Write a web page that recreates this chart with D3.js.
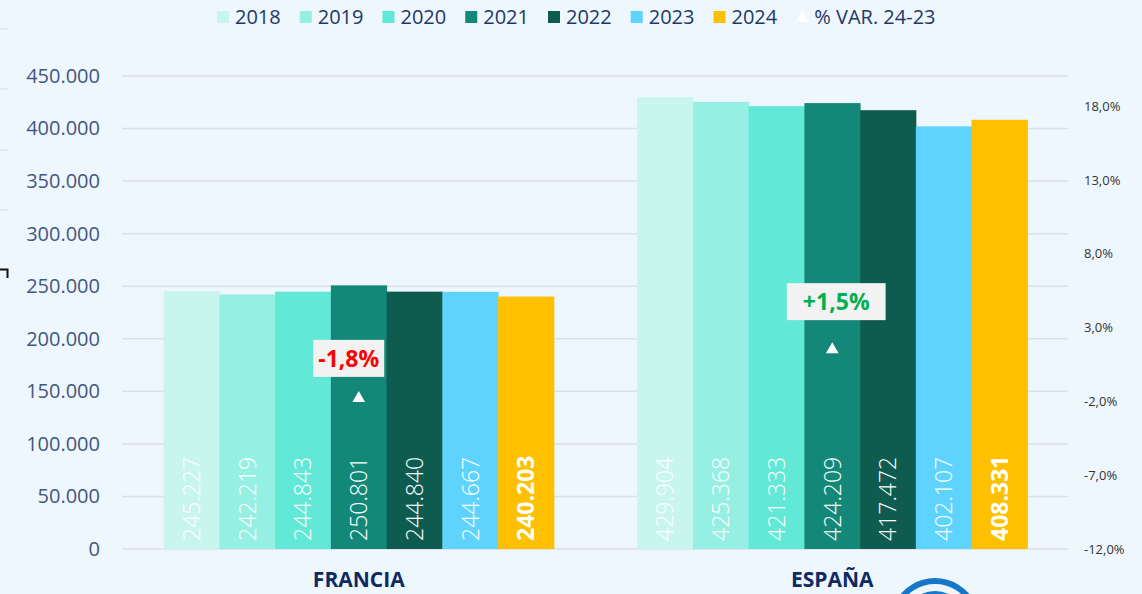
<!DOCTYPE html>
<html>
<head>
<meta charset="utf-8">
<script src="https://cdn.jsdelivr.net/npm/d3@7"></script>
<style>
  html, body { margin: 0; padding: 0; background: #eef6fe; }
  svg { display: block; }
</style>
</head>
<body>
<div id="chart"></div>
<script>
var categories = ["FRANCIA", "ESPAÑA"];
var years = ["2018", "2019", "2020", "2021", "2022", "2023", "2024"];
var francia = [245227, 242219, 244843, 250801, 244840, 244667, 240203];
var espana = [429904, 425368, 421333, 424209, 417472, 402107, 408331];
var variation = [-1.8, 1.5];
var leftTicks = [0, 50000, 100000, 150000, 200000, 250000, 300000, 350000, 400000, 450000];
var rightTicks = [-12, -7, -2, 3, 8, 13, 18];
var colors = ["#c9f5ef", "#95efe3", "#62e8d7", "#148878", "#0e5b50", "#5dd3fe", "#ffc000"];
var varLabel = "% VAR. 24-23";

var width = 1142, height = 594;
var locale = d3.formatLocale({ decimal: ",", thousands: ".", grouping: [3], currency: ["", "€"], minus: "-" });
var fmt = locale.format(",d");
var fmtPct = locale.format(".1f");

var svg = d3.select('#chart').append('svg')
  .attr('width', width)
  .attr('height', height)
  .style('font-family', '"Open Sans", sans-serif');

svg.append('rect').attr('width', width).attr('height', height).attr('fill', '#eef6fe');

// scraps of a neighbouring chart on the left edge
[29, 89, 150, 210].forEach(function(y) {
  svg.append('line').attr('x1', 0).attr('x2', 8).attr('y1', y).attr('y2', y)
    .attr('stroke', '#d6dbe0').attr('stroke-width', 1);
});
svg.append('path').attr('d', 'M0,269.5 H7.5 V278').attr('fill', 'none')
  .attr('stroke', '#111').attr('stroke-width', 2);

var x0 = d3.scaleBand().domain(categories).range([122, 1069]).paddingInner(0.176).paddingOuter(0.088);
var x1 = d3.scaleBand().domain(years).range([0, x0.bandwidth()]);
var y = d3.scaleLinear().domain([0, 450000]).range([549, 76]);
var y2 = d3.scaleLinear().domain([-12, 18]).range([549, 106]);
var color = d3.scaleOrdinal().domain(years).range(colors);

// grid
svg.append('g').selectAll('line')
  .data(leftTicks)
  .enter().append('line')
    .attr('x1', 122).attr('x2', 1068)
    .attr('y1', function(d) { return y(d); })
    .attr('y2', function(d) { return y(d); })
    .attr('stroke', '#dcdfe4').attr('stroke-width', 1.5);

// left axis
var leftAxis = svg.append('g')
  .attr('transform', 'translate(100,0)')
  .call(d3.axisLeft(y).tickValues(leftTicks).tickSize(0).tickPadding(0).tickFormat(fmt));
leftAxis.select('.domain').remove();
leftAxis.selectAll('text').attr('fill', '#44577f').style('font-size', '20px')
  .style('font-family', '"Open Sans", sans-serif');

// right axis
var rightAxis = svg.append('g')
  .attr('transform', 'translate(1084,0)')
  .call(d3.axisRight(y2).tickValues(rightTicks).tickSize(0).tickPadding(0)
    .tickFormat(function(d) { return fmtPct(d) + '%'; }));
rightAxis.select('.domain').remove();
rightAxis.selectAll('text').attr('fill', '#333').style('font-size', '13px')
  .style('font-family', '"Open Sans", sans-serif');

var series = [francia, espana];
var groups = svg.selectAll('g.group')
  .data(categories)
  .enter().append('g')
    .attr('class', 'group')
    .attr('transform', function(d) { return 'translate(' + x0(d) + ',0)'; });

groups.selectAll('rect')
  .data(function(d, i) { return series[i].map(function(v, j) { return { year: years[j], value: v }; }); })
  .enter().append('rect')
    .attr('x', function(d) { return x1(d.year); })
    .attr('y', function(d) { return y(d.value); })
    .attr('width', x1.bandwidth() + 0.5)
    .attr('height', function(d) { return y(0) - y(d.value); })
    .attr('fill', function(d) { return color(d.year); });

groups.selectAll('text.value')
  .data(function(d, i) { return series[i].map(function(v, j) { return { year: years[j], value: v }; }); })
  .enter().append('text')
    .attr('class', 'value')
    .attr('transform', function(d) {
      return 'translate(' + (x1(d.year) + x1.bandwidth() / 2) + ',' + (y(0) - 8) + ') rotate(-90)';
    })
    .attr('dy', '0.36em')
    .attr('fill', '#fff')
    .style('font-size', '23px')
    .style('font-weight', function(d) { return d.year === '2024' ? 700 : 300; })
    .text(function(d) { return fmt(d.value); });

// variation markers
groups.append('path')
  .attr('d', d3.symbol().type(d3.symbolTriangle).size(70))
  .attr('transform', function(d, i) {
    return 'translate(' + (x1('2021') + x1.bandwidth() / 2) + ',' + y2(variation[i]) + ')';
  })
  .attr('fill', '#fff');

var boxPad = [5, 16];
var boxShift = [-10, 4];
groups.each(function(d, i) {
  var g = d3.select(this);
  var cx = x1('2021') + x1.bandwidth() / 2 + boxShift[i];
  var cy = y2(variation[i]) - (i === 0 ? 40 : 48);
  var box = g.append('rect').attr('fill', '#f2f2f2');
  var t = g.append('text')
    .attr('x', cx).attr('y', cy)
    .attr('dy', '0.36em')
    .attr('text-anchor', 'middle')
    .attr('fill', variation[i] < 0 ? '#ff0000' : '#00b050')
    .style('font-size', '23px')
    .style('font-weight', 700)
    .text((variation[i] > 0 ? '+' : '') + fmtPct(variation[i]) + '%');
  var w = t.node().getComputedTextLength() + boxPad[i] * 2;
  box.attr('x', cx - w / 2).attr('y', cy - 18.5).attr('width', w).attr('height', 37);
});

// category labels
svg.selectAll('text.cat')
  .data(categories)
  .enter().append('text')
    .attr('class', 'cat')
    .attr('x', function(d) { return x0(d) + x0.bandwidth() / 2; })
    .attr('y', 587)
    .attr('text-anchor', 'middle')
    .attr('fill', '#0d2a63')
    .style('font-size', '21px')
    .style('font-weight', 700)
    .text(function(d) { return d; });

// logo fragment
svg.append('path')
  .attr('d', d3.arc().innerRadius(39).outerRadius(45).startAngle(-1.1).endAngle(1.1)())
  .attr('transform', 'translate(935,623)')
  .attr('fill', '#1677c8');
svg.append('path')
  .attr('d', d3.arc().innerRadius(27).outerRadius(32).startAngle(-0.9).endAngle(0.9)())
  .attr('transform', 'translate(935,623)')
  .attr('fill', '#1677c8');

// legend
var legend = svg.append('g').attr('transform', 'translate(217,17)');
var lx = 0;
years.concat([varLabel]).forEach(function(d, i) {
  var item = legend.append('g').attr('transform', 'translate(' + lx + ',0)');
  if (i < years.length) {
    item.append('rect').attr('x', 0).attr('y', -6).attr('width', 12).attr('height', 12)
      .attr('fill', color(d));
  } else {
    item.append('path').attr('d', d3.symbol().type(d3.symbolTriangle).size(75))
      .attr('transform', 'translate(6,1)').attr('fill', '#fff');
  }
  var t = item.append('text')
    .attr('x', 18).attr('dy', '0.36em')
    .attr('fill', '#1f3864')
    .style('font-size', '20px')
    .text(d);
  lx += 18 + t.node().getComputedTextLength() + 19;
});
</script>
</body>
</html>
